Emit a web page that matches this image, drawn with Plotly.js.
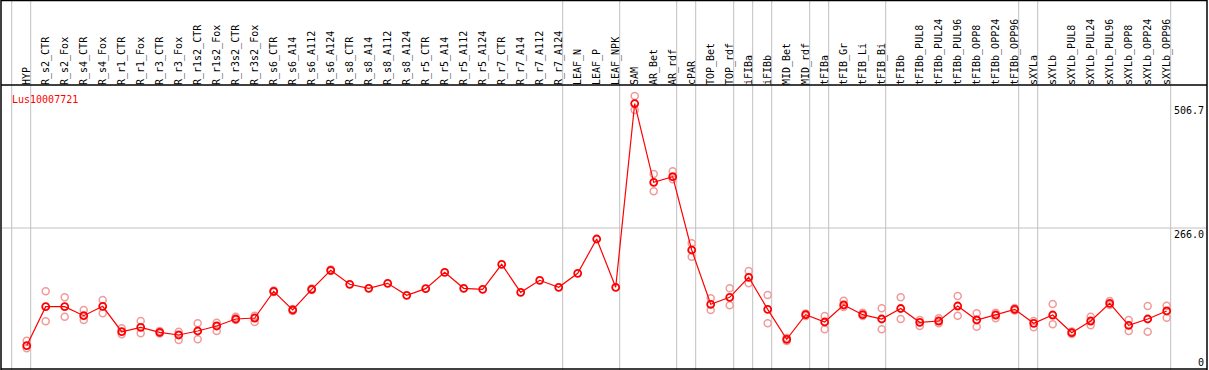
<!DOCTYPE html>
<html>
<head>
<meta charset="utf-8">
<script src="https://cdn.plot.ly/plotly-3.0.1.min.js"></script>
<style>html,body{margin:0;padding:0;background:#fff;}#chart{width:1209px;height:370px;}</style>
</head>
<body>
<div id="chart"></div>
<script>
const categories = ["HYP","R_s2_CTR","R_s2_Fox","R_s4_CTR","R_s4_Fox","R_r1_CTR","R_r1_Fox","R_r3_CTR","R_r3_Fox","R_r1s2_CTR","R_r1s2_Fox","R_r3s2_CTR","R_r3s2_Fox","R_s6_CTR","R_s6_A14","R_s6_A112","R_s6_A124","R_s8_CTR","R_s8_A14","R_s8_A112","R_s8_A124","R_r5_CTR","R_r5_A14","R_r5_A112","R_r5_A124","R_r7_CTR","R_r7_A14","R_r7_A112","R_r7_A124","LEAF_N","LEAF_P","LEAF_NPK","SAM","AR_Bet","AR_rdf","cPAR","TOP_Bet","TOP_rdf","iFIBa","iFIBb","MID_Bet","MID_rdf","tFIBa","tFIB_Gr","tFIB_Li","tFIB_Bi","tFIBb","tFIBb_PUL8","tFIBb_PUL24","tFIBb_PUL96","tFIBb_OPP8","tFIBb_OPP24","tFIBb_OPP96","sXYLa","sXYLb","sXYLb_PUL8","sXYLb_PUL24","sXYLb_PUL96","sXYLb_OPP8","sXYLb_OPP24","sXYLb_OPP96"];

const meanValues = [38.5,113.9,113.9,96.5,114.6,65.5,74.0,64.4,59.2,66.9,76.6,90.1,92.0,143.6,107.5,147.5,184.2,157.2,149.4,159.1,135.9,148.7,180.4,149.4,147.5,195.8,141.7,164.9,151.4,178.4,244.8,151.4,506.7,354.4,365.2,223.5,118.5,132.0,170.7,108.8,50.8,98.4,84.3,117.2,98.4,90.1,110.4,83.7,86.2,115.2,88.2,97.8,108.8,81.8,97.8,63.6,86.2,120.4,77.9,90.1,105.6];

const replicateA = [48.1,143.6,132.0,107.5,126.8,72.1,86.2,66.9,65.5,81.8,82.9,94.5,96.5,145.2,109.4,149.1,185.8,null,null,null,null,null,null,null,null,null,null,null,null,null,null,null,521.2,370.4,375.6,236.4,130.1,149.4,182.9,136.5,53.4,100.7,95.9,125.5,102.3,110.8,132.0,88.2,91.4,134.6,101.1,102.3,111.4,86.2,119.1,65.9,94.5,124.9,88.2,115.2,115.8];

const replicateB = [33.4,85.6,94.5,88.2,101.1,60.5,62.4,62.1,49.5,50.8,66.9,88.2,84.3,142.3,105.6,146.2,182.9,null,null,null,null,null,null,null,null,null,null,null,null,null,null,null,494.1,337.0,360.2,210.5,107.5,116.6,159.1,81.8,47.6,95.9,70.2,113.3,95.9,70.2,90.1,76.6,81.8,96.5,75.2,91.4,106.5,74.0,79.8,61.1,77.9,117.2,66.9,65.5,92.6];

const yTickValues = [506.7, 266.0, 0];
const yTickLabels = ["506.7", "266.0", "0"];
const gridValue = 266.0;
const groupSeparators = [-1, 0, 28, 31, 34, 35, 37, 38, 39, 41, 42, 45, 52, 53, 60];
const geneName = "Lus10007721";

const FONT = "DejaVu Sans Mono, monospace";
const idx = categories.map((c, i) => i);

const traces = [
  {x: idx, y: replicateA, type: "scatter", mode: "markers", hoverinfo: "skip",
   marker: {symbol: "circle-open", size: 7, color: "#f09a9a", line: {width: 1.5, color: "#f09a9a"}}},
  {x: idx, y: replicateB, type: "scatter", mode: "markers", hoverinfo: "skip",
   marker: {symbol: "circle-open", size: 7, color: "#f09a9a", line: {width: 1.5, color: "#f09a9a"}}},
  {x: idx, y: meanValues, type: "scatter", mode: "lines+markers", name: geneName,
   line: {color: "#ff0000", width: 1.2},
   marker: {symbol: "circle-open", size: 7, color: "#ff0000", line: {width: 1.8, color: "#ff0000"}}}
];

const shapes = [];
const topExt = 1 + 86 / 282, botExt = -2 / 282;
groupSeparators.forEach(i => {
  shapes.push({type: "line", xref: "x", yref: "paper", x0: i + 4 / 19, x1: i + 4 / 19, y0: botExt, y1: topExt,
    line: {color: "#c0c0c0", width: 1}, layer: "below"});
});
shapes.push({type: "line", xref: "paper", yref: "y", x0: 0, x1: 1, y0: gridValue, y1: gridValue,
  line: {color: "#c0c0c0", width: 1}, layer: "below"});
// header separator and frame
shapes.push({type: "line", xref: "paper", yref: "paper", x0: -1 / 1205, x1: 1, y0: 1 + 1 / 282, y1: 1 + 1 / 282, line: {color: "#000", width: 1.5}});
shapes.push({type: "line", xref: "paper", yref: "paper", x0: -1 / 1205, x1: -1 / 1205, y0: botExt, y1: topExt, line: {color: "#000", width: 1.5}});
shapes.push({type: "line", xref: "paper", yref: "paper", x0: 1, x1: 1, y0: botExt, y1: topExt, line: {color: "#000", width: 1.5}});
shapes.push({type: "line", xref: "paper", yref: "paper", x0: -1 / 1205, x1: 1, y0: topExt - 0.5 / 282, y1: topExt - 0.5 / 282, line: {color: "#000", width: 1.5}});
shapes.push({type: "line", xref: "paper", yref: "paper", x0: -1 / 1205, x1: 1, y0: -1 / 282, y1: -1 / 282, line: {color: "#000", width: 1.5}});

const annotations = [
  {xref: "paper", yref: "paper", x: 8 / 1205, y: 1 - 6 / 282, xanchor: "left", yanchor: "top", showarrow: false,
   text: geneName, font: {family: FONT, size: 10, color: "#ff0000"}}
];
yTickValues.forEach((v, k) => {
  annotations.push({xref: "paper", yref: "y", x: 1, y: v, xanchor: "right", yanchor: v === 0 ? "bottom" : "top",
    xshift: -1, yshift: v === 0 ? -4 : 1, showarrow: false, text: yTickLabels[k],
    font: {family: FONT, size: 10, color: "#000"}});
});

const layout = {
  width: 1209, height: 370,
  margin: {l: 2, r: 2, t: 86, b: 2, pad: 0},
  paper_bgcolor: "#fff", plot_bgcolor: "#fff",
  showlegend: false,
  xaxis: {range: [-1.3, 62.121], side: "top", tickmode: "array", tickvals: idx, ticktext: categories,
    tickangle: -90, ticks: "", showgrid: false, zeroline: false, showline: false,
    tickfont: {family: FONT, size: 10, color: "#000"}, fixedrange: true},
  yaxis: {range: [-4.64, 540.6], tickvals: yTickValues, ticktext: yTickLabels, showticklabels: false,
    ticks: "", showgrid: false, zeroline: false, showline: false, fixedrange: true},
  shapes: shapes,
  annotations: annotations
};

Plotly.newPlot("chart", traces, layout, {displayModeBar: false, staticPlot: true});
</script>
</body>
</html>
